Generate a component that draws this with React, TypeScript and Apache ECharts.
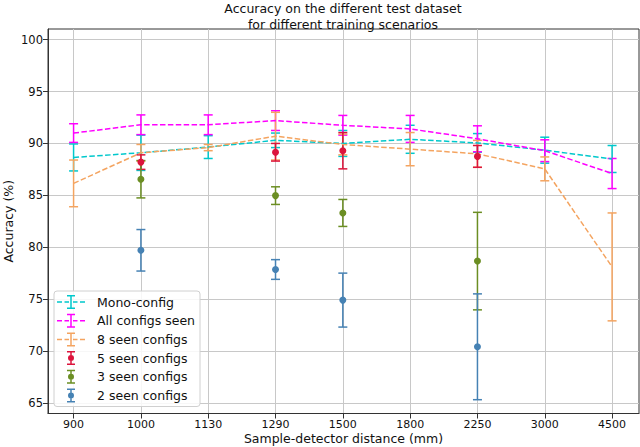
import React, { useEffect, useRef } from "react";
import * as echarts from "echarts";

// ---- data ----
const categories = ["900", "1000", "1130", "1290", "1500", "1800", "2250", "3000", "4500"];
const yTicks = [65, 70, 75, 80, 85, 90, 95, 100];

const monoVals = [88.65, 89.1, 89.65, 90.3, 90.0, 90.4, 90.05, 89.35, 88.5];
const monoErr = [1.3, 1.7, 1.1, 0.7, 1.25, 1.35, 0.9, 1.25, 1.3];

const allVals = [91.0, 91.8, 91.8, 92.2, 91.75, 91.4, 90.45, 89.3, 87.1];
const allErr = [0.9, 0.95, 0.95, 0.95, 0.95, 1.3, 1.25, 1.05, 1.45];

const eightVals = [86.15, 89.1, 89.6, 90.7, 89.9, 89.45, 89.0, 87.55, 78.1];
const eightErr = [2.25, 0.8, 0.3, 2.3, 1.0, 1.6, 1.3, 1.15, 5.2];

const sparseIdx = [1, 3, 4, 6]; // 1000, 1290, 1500, 2250
const fiveVals = [88.2, 89.15, 89.3, 88.75];
const fiveErr = [0.7, 0.85, 1.75, 1.05];
const threeVals = [86.55, 84.97, 83.3, 78.66];
const threeErr = [1.8, 0.85, 1.3, 4.7];
const twoVals = [79.7, 77.85, 74.9, 70.4];
const twoErr = [2.0, 0.95, 2.6, 5.1];

const names = ["Mono-config", "All configs seen", "8 seen configs", "5 seen configs", "3 seen configs", "2 seen configs"];
const colors = ["#00c8cc", "#ff00ff", "#f4a460", "#dc143c", "#6b8e23", "#4682b4"];

const FONT = "DejaVu Sans";

// legend icons (box 33 x 14, content in 0..28)
const corners = "M0 0h0.01v0.01h-0.01Z M32.99 13.99h0.01v0.01h-0.01Z ";
const bar = "M13.25 0.75h1.5v12.5h-1.5Z M10 0h8v1.5h-8Z M10 12.5h8v1.5h-8Z ";
const dashIcon =
  "path://" + corners + bar +
  "M0 6.25h5v1.5h-5Z M7.5 6.25h4.5v1.5h-4.5Z M16 6.25h4.5v1.5h-4.5Z M23 6.25h5v1.5h-5Z";
const dotIcon =
  "path://" + corners + bar +
  "M17 7A3 3 0 1 1 11 7A3 3 0 1 1 17 7Z";

function errRender(color: string) {
  return (params: any, api: any) => {
    const x = api.value(0);
    const lo = api.coord([x, api.value(1)]);
    const hi = api.coord([x, api.value(2)]);
    const hw = 4.5;
    const style = { stroke: color, lineWidth: 1.5, fill: null };
    return {
      type: "group",
      children: [
        { type: "line", shape: { x1: lo[0], y1: lo[1], x2: hi[0], y2: hi[1] }, style },
        { type: "line", shape: { x1: lo[0] - hw, y1: lo[1], x2: lo[0] + hw, y2: lo[1] }, style },
        { type: "line", shape: { x1: hi[0] - hw, y1: hi[1], x2: hi[0] + hw, y2: hi[1] }, style },
      ],
    };
  };
}

function errData(xs: number[], vals: number[], errs: number[]) {
  return xs.map((x, i) => [x, vals[i] - errs[i], vals[i] + errs[i]]);
}

const allIdx = categories.map((_, i) => i);

export default function App() {
  const ref = useRef<HTMLDivElement>(null);
  useEffect(() => {
    document.body.style.margin = "0";
    const chart = echarts.init(ref.current!, null, { renderer: "svg" });

    const lineSets = [
      { vals: monoVals, errs: monoErr },
      { vals: allVals, errs: allErr },
      { vals: eightVals, errs: eightErr },
    ];
    const dotSets = [
      { vals: fiveVals, errs: fiveErr },
      { vals: threeVals, errs: threeErr },
      { vals: twoVals, errs: twoErr },
    ];

    const series: any[] = [];
    lineSets.forEach((s, k) => {
      series.push({
        name: names[k],
        type: "custom",
        renderItem: errRender(colors[k]),
        itemStyle: { color: colors[k] },
        encode: { x: 0, y: [1, 2] },
        data: errData(allIdx, s.vals, s.errs),
        z: 2,
      });
      series.push({
        name: names[k],
        type: "line",
        showSymbol: false,
        symbol: "none",
        color: colors[k],
        lineStyle: { color: colors[k], width: 1.5, type: [5.5, 2.4] },
        data: allIdx.map((x, i) => [x, s.vals[i]]),
        z: 2,
      });
    });
    dotSets.forEach((s, j) => {
      const k = j + 3;
      series.push({
        name: names[k],
        type: "custom",
        renderItem: errRender(colors[k]),
        itemStyle: { color: colors[k] },
        encode: { x: 0, y: [1, 2] },
        data: errData(sparseIdx, s.vals, s.errs),
        z: 2,
      });
      series.push({
        name: names[k],
        type: "scatter",
        symbol: "circle",
        symbolSize: 7,
        itemStyle: { color: colors[k], opacity: 1 },
        data: sparseIdx.map((x, i) => [x, s.vals[i]]),
        z: 3,
      });
    });

    chart.setOption({
      animation: false,
      backgroundColor: "#ffffff",
      title: {
        text: "Accuracy on the different test dataset\nfor different training scenarios",
        left: 343,
        top: 0,
        padding: 0,
        textAlign: "center",
        textStyle: { fontFamily: FONT, fontSize: 12.5, fontWeight: "normal", color: "#111", lineHeight: 16 },
      },
      grid: {
        left: 48,
        right: 1,
        top: 29,
        bottom: 33.5,
        outerBoundsMode: "none",
        containLabel: false,
        show: true,
        borderColor: "#333",
        borderWidth: 1,
        backgroundColor: "transparent",
      },
      legend: {
        orient: "vertical",
        left: 54,
        top: 291,
        itemWidth: 33,
        itemHeight: 14,
        itemGap: 4.7,
        padding: [4, 5, 4, 3],
        backgroundColor: "rgba(255,255,255,0.85)",
        borderColor: "#d0d0d0",
        borderWidth: 1,
        borderRadius: 3,
        textStyle: { fontFamily: FONT, fontSize: 12.5, color: "#111", padding: [0, 0, 0, 2] },
        data: names.map((n, k) => ({
          name: n,
          icon: k < 3 ? dashIcon : dotIcon,
          itemStyle: { color: colors[k] },
        })),
      },
      xAxis: {
        type: "value",
        min: -0.38,
        max: 8.4,
        name: "Sample-detector distance (mm)",
        nameLocation: "middle",
        nameGap: 18,
        nameMoveOverlap: false,
        nameTextStyle: { fontFamily: FONT, fontSize: 12.5, color: "#111" },
        axisLine: { show: true, onZero: false, lineStyle: { color: "#333", width: 1 } },
        axisTick: { show: true, length: 5, customValues: allIdx, lineStyle: { color: "#333" } },
        axisLabel: {
          customValues: allIdx,
          formatter: (v: number) => categories[Math.round(v)] ?? "",
          fontFamily: FONT,
          fontSize: 11,
          color: "#111",
          margin: 5,
        },
        splitLine: { show: true, lineStyle: { color: "#c8c8c8", width: 1 } },
      },
      yAxis: {
        type: "value",
        min: 63.97,
        max: 101.03,
        name: "Accuracy (%)",
        nameLocation: "middle",
        nameGap: 33,
        nameMoveOverlap: false,
        nameTextStyle: { fontFamily: FONT, fontSize: 12.5, color: "#111" },
        axisLine: { show: true, onZero: false, lineStyle: { color: "#333", width: 1 } },
        axisTick: { show: true, length: 5, customValues: yTicks, lineStyle: { color: "#333" } },
        axisLabel: {
          customValues: yTicks,
          fontFamily: FONT,
          fontSize: 11.5,
          color: "#111",
          margin: 5,
        },
        splitLine: { show: true, lineStyle: { color: "#c8c8c8", width: 1 } },
      },
      series,
    });
    return () => chart.dispose();
  }, []);
  return <div ref={ref} style={{ position: "absolute", left: 0, top: 0, width: 640, height: 447 }} />;
}
